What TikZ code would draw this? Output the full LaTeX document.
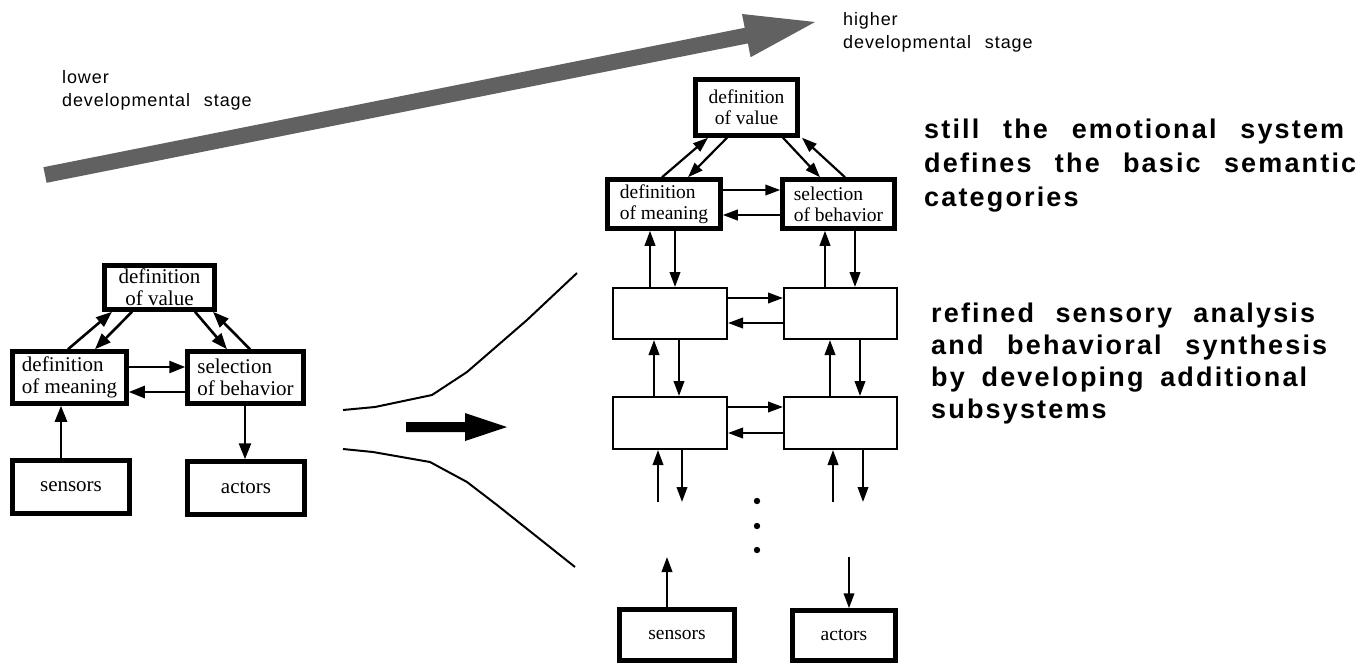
\documentclass[tikz,border=0pt]{standalone}
\usepackage{fontspec}
\setmainfont{Liberation Serif}
\newfontfamily\helv[LetterSpace=5]{Liberation Sans}
\newfontfamily\helvb[LetterSpace=8]{Liberation Sans}
\usetikzlibrary{arrows.meta,calc}
\begin{document}
\begin{tikzpicture}[x=1pt,y=-1pt,
  bigbox/.style={draw, line width=4.5pt, inner sep=0pt, font=\fontsize{21}{22}\selectfont},
  rbox/.style={draw, line width=4.5pt, inner sep=0pt, font=\fontsize{19.5}{21}\selectfont},
  thinbox/.style={draw, line width=2pt, inner sep=0pt},
  larr/.style={line width=2.6pt, -{Triangle[length=16pt,width=12pt]}},
  arr/.style={line width=2.2pt, -{Triangle[length=15pt,width=10.5pt]}},
  small/.style={font=\helv\fontsize{18}{20}\selectfont, inner sep=0pt, anchor=base west},
  bigtxt/.style={font=\helvb\bfseries\fontsize{27}{29}\selectfont, inner sep=0pt, anchor=base west}]
\useasboundingbox (0,0) rectangle (1360,667);

% developmental arrow
\fill[black!62] (43.4,167.2) -- (744.7,27.8) -- (742,14) -- (815,22) -- (750.6,57.2) -- (747.9,43.4) -- (46.6,182.8) -- cycle;
\node[small] (low1) at (62,83) {lower};
\node[small] (low2) at (62,106) {developmental\hspace{8pt} stage};
\node[small] (high1) at (843,25) {higher};
\node[small] (high2) at (843,48) {developmental\hspace{8pt} stage};

% left diagram
\node[bigbox, align=center, minimum width=110pt, minimum height=44pt] (Lvalue) at (159.5,287.5) {definition\\of value};
\node[bigbox, align=left, minimum width=114pt, minimum height=52pt] (Lmean) at (69.5,377.5) {definition\\of meaning};
\node[bigbox, align=left, minimum width=116pt, minimum height=52pt] (Lsel) at (245.5,377.5) {selection\\of behavior};
\node[bigbox, minimum width=117pt, minimum height=53pt] (Lsens) at (71,487) {sensors};
\node[bigbox, minimum width=117pt, minimum height=53pt] (Lact) at (246,488) {actors};

\draw[larr] (Lmean.north -| 68,0) -- (Lvalue.south -| 112,0);
\draw[larr] (Lvalue.south -| 132,0) -- (Lmean.north -| 95,0);
\draw[larr] (Lvalue.south -| 195,0) -- (Lsel.north -| 227,0);
\draw[larr] (Lsel.north -| 250,0) -- (Lvalue.south -| 213,0);
\draw[larr] (Lmean.east |- 0,367) -- (Lsel.west |- 0,367);
\draw[larr] (Lsel.west |- 0,392) -- (Lmean.east |- 0,392);
\draw[larr] (Lsens.north -| 61,0) -- (Lmean.south -| 61,0);
\draw[larr] (Lsel.south -| 245,0) -- (Lact.north -| 245,0);

% funnel and transition arrow
\draw[line width=2pt] (343,410) -- (375,407) -- (432,395) -- (467,372) -- (527,320) -- (577,273);
\draw[line width=2pt] (343,449) -- (373,452) -- (430,462) -- (467,482) -- (497,505) -- (575,567);
\fill (406,422) -- (465,422) -- (465,413) -- (507,427) -- (465,441) -- (465,432) -- (406,432) -- cycle;

% right diagram
\node[rbox, align=center, minimum width=102pt, minimum height=56pt] (Rvalue) at (746.5,107.5) {definition\\of value};
\node[rbox, align=left, minimum width=113pt, minimum height=49pt] (Rmean) at (664,204) {definition\\of meaning};
\node[rbox, align=left, minimum width=112pt, minimum height=49pt] (Rsel) at (838.5,204) {selection\\of behavior};
\node[thinbox, minimum width=114pt, minimum height=51pt] (R1L) at (670,313.5) {};
\node[thinbox, minimum width=113pt, minimum height=51pt] (R1R) at (840.5,313.5) {};
\node[thinbox, minimum width=114pt, minimum height=52pt] (R2L) at (670,423) {};
\node[thinbox, minimum width=113pt, minimum height=52pt] (R2R) at (840.5,423) {};
\node[rbox, minimum width=115pt, minimum height=51pt] (Rsens) at (677,635) {sensors};
\node[rbox, minimum width=103pt, minimum height=50pt] (Ract) at (844,635.5) {actors};

\draw[arr] (Rmean.north -| 662,0) -- (Rvalue.south -| 708,0);
\draw[arr] (Rvalue.south -| 727,0) -- (Rmean.north -| 688,0);
\draw[arr] (Rvalue.south -| 783,0) -- (Rsel.north -| 820,0);
\draw[arr] (Rsel.north -| 845,0) -- (Rvalue.south -| 802,0);
\draw[arr] (Rmean.east |- 0,190) -- (Rsel.west |- 0,190);
\draw[arr] (Rsel.west |- 0,215) -- (Rmean.east |- 0,215);

\draw[arr] (R1L.north -| 650,0) -- (Rmean.south -| 650,0);
\draw[arr] (Rmean.south -| 675,0) -- (R1L.north -| 675,0);
\draw[arr] (R1R.north -| 825,0) -- (Rsel.south -| 825,0);
\draw[arr] (Rsel.south -| 855,0) -- (R1R.north -| 855,0);
\draw[arr] (R1L.east |- 0,298) -- (R1R.west |- 0,298);
\draw[arr] (R1R.west |- 0,323) -- (R1L.east |- 0,323);

\draw[arr] (R2L.north -| 654,0) -- (R1L.south -| 654,0);
\draw[arr] (R1L.south -| 679,0) -- (R2L.north -| 679,0);
\draw[arr] (R2R.north -| 830,0) -- (R1R.south -| 830,0);
\draw[arr] (R1R.south -| 860,0) -- (R2R.north -| 860,0);
\draw[arr] (R2L.east |- 0,407) -- (R2R.west |- 0,407);
\draw[arr] (R2R.west |- 0,433) -- (R2L.east |- 0,433);

\coordinate (u1) at (658,502);
\coordinate (d1) at (682,502);
\coordinate (u2) at (833,502);
\coordinate (d2) at (863,502);
\draw[arr] (u1) -- (R2L.south -| u1);
\draw[arr] (R2L.south -| d1) -- (d1);
\draw[arr] (u2) -- (R2R.south -| u2);
\draw[arr] (R2R.south -| d2) -- (d2);

\fill (757,501) circle (3.2);
\fill (757,526) circle (3.2);
\fill (757,550) circle (3.2);

\coordinate (su) at (667,557);
\coordinate (ad) at (849,557);
\draw[arr] (Rsens.north -| su) -- (su);
\draw[arr] (ad) -- (Ract.north -| ad);

% explanatory text
\node[bigtxt] (a1) at (924,138) {\makebox[420pt][s]{still the emotional system}};
\node[bigtxt] (a2) at (924,172) {\makebox[432pt][s]{defines the basic semantic}};
\node[bigtxt] (a3) at (924,206) {categories};
\node[bigtxt] (b1) at (931,322) {\makebox[384pt][s]{refined sensory analysis}};
\node[bigtxt] (b2) at (931,354) {\makebox[396pt][s]{and behavioral synthesis}};
\node[bigtxt] (b3) at (931,386) {\makebox[376pt][s]{by developing additional}};
\node[bigtxt] (b4) at (931,418) {subsystems};
\end{tikzpicture}
\end{document}
